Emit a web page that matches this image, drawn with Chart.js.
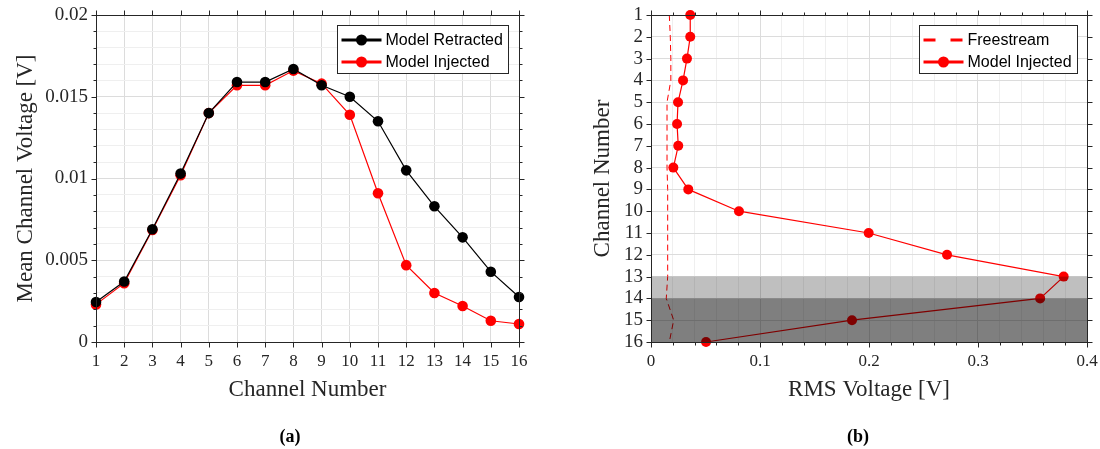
<!DOCTYPE html>
<html>
<head>
<meta charset="utf-8">
<script src="https://cdn.jsdelivr.net/npm/chart.js@4/dist/chart.umd.min.js"></script>
<style>
  body { margin: 0; background: #fff; width: 1100px; height: 449px; position: relative; overflow: hidden; }
  .khung { position: absolute; top: 0; width: 550px; height: 449px; }
  .nhan { position: absolute; top: 436px; transform: translate(-50%, -50%); font: bold 18px "Liberation Serif"; color: #000; }
</style>
</head>
<body>
<div class="khung" style="left:0"><canvas id="bieudoA" width="550" height="449"></canvas></div>
<div class="khung" style="left:550px"><canvas id="bieudoB" width="550" height="449"></canvas></div>
<div class="nhan" style="left:290px">(a)</div>
<div class="nhan" style="left:858px">(b)</div>
<script>
// Dữ liệu
const kenh = [1, 2, 3, 4, 5, 6, 7, 8, 9, 10, 11, 12, 13, 14, 15, 16];
const dienApRutVao = [0.00245, 0.0037, 0.0069, 0.0103, 0.0140, 0.0159, 0.0159, 0.0167, 0.0157, 0.0150, 0.0135, 0.0105, 0.0083, 0.0064, 0.0043, 0.00275];
const dienApPhun = [0.0023, 0.0036, 0.00685, 0.0102, 0.0140, 0.0157, 0.0157, 0.0166, 0.0158, 0.0139, 0.0091, 0.0047, 0.0030, 0.0022, 0.0013, 0.0011];
const rmsDongTuDo = [0.0168, 0.0177, 0.0182, 0.0182, 0.0147, 0.0147, 0.0147, 0.0147, 0.0153, 0.0153, 0.0153, 0.0153, 0.0153, 0.0140, 0.0208, 0.0168];
const rmsPhun = [0.036, 0.036, 0.033, 0.0294, 0.0248, 0.0239, 0.025, 0.0205, 0.0342, 0.0807, 0.1997, 0.2716, 0.3786, 0.357, 0.1844, 0.0505];

// Nhãn trục
const mocY_A = ["0", "0.005", "0.01", "0.015", "0.02"];
const mocX_B = ["0", "0.1", "0.2", "0.3", "0.4"];

// Vùng tô xám (theo số kênh)
const vungNhat = [13, 14];
const vungDam = [14, 16];

const mauChu = "#262626";
const mauLuoiChinh = "#dcdcdc";
const mauLuoiPhu = "#efefef";

// tạo danh sách vạch: bước nhỏ, nhãn ở các mốc chính
function taoVach(min, max, buoc) {
  const ds = [];
  const n = Math.round((max - min) / buoc);
  for (let i = 0; i <= n; i++) ds.push({ value: +(min + i * buoc).toFixed(6) });
  return ds;
}
function nhanTheoMoc(moc) {
  return function (v) {
    const m = moc.find(s => Math.abs(parseFloat(s) - v) < 1e-9);
    return m === undefined ? "" : m;
  };
}
// cố định kích thước trục, bỏ phần đệm do nhãn tràn
function coDinhTrucDoc(rong) {
  return s => { s.width = rong; s.paddingTop = 0; s.paddingBottom = 0; };
}
function coDinhTrucNgang(cao) {
  return s => { s.height = cao; s.paddingLeft = 0; s.paddingRight = 0; };
}

// khung hộp + vạch chia hướng ra ngoài ở cả bốn cạnh, và vùng xám
const khungPlugin = {
  id: "khung",
  afterDatasetsDraw(chart, args, opts) {
    const ctx = chart.ctx, ca = chart.chartArea;
    const xs = chart.scales.x, ys = chart.scales.y;
    ctx.save();
    (opts.vung || []).forEach(v => {
      const a = ys.getPixelForValue(v.tu), b = ys.getPixelForValue(v.den);
      ctx.fillStyle = v.mau;
      ctx.fillRect(ca.left, Math.min(a, b), ca.right - ca.left, Math.abs(b - a));
    });
    const L = Math.round(ca.left) + 0.5, R = Math.round(ca.right) + 0.5;
    const T = Math.round(ca.top) + 0.5, B = Math.round(ca.bottom) + 0.5;
    ctx.strokeStyle = mauChu;
    ctx.lineWidth = 1;
    ctx.beginPath();
    xs.ticks.forEach(t => {
      const p = Math.round(xs.getPixelForValue(t.value)) + 0.5;
      const d = t.label !== "" ? 5 : 3;
      ctx.moveTo(p, B); ctx.lineTo(p, B + d);
      ctx.moveTo(p, T); ctx.lineTo(p, T - d);
    });
    ys.ticks.forEach(t => {
      const p = Math.round(ys.getPixelForValue(t.value)) + 0.5;
      const d = t.label !== "" ? 5 : 3;
      ctx.moveTo(L, p); ctx.lineTo(L - d, p);
      ctx.moveTo(R, p); ctx.lineTo(R + d, p);
    });
    ctx.stroke();
    ctx.strokeRect(L, T, R - L, B - T);
    ctx.restore();
  }
};

// chú giải kiểu MATLAB: đường + điểm trong hộp
const chuGiaiPlugin = {
  id: "chuGiai",
  afterDraw(chart, args, opts) {
    const ctx = chart.ctx, ca = chart.chartArea;
    const ds = chart.data.datasets;
    ctx.save();
    ctx.font = '16px "Liberation Sans"';
    const textW = Math.max(...ds.map(d => ctx.measureText(d.label).width));
    const w = Math.round(4 + 40 + 4 + textW + 6);
    const h = 48;
    const x0 = Math.round(ca.right - opts.phai - w) + 0.5;
    const y0 = Math.round(ca.top + opts.tren) + 0.5;
    ctx.fillStyle = "#fff";
    ctx.fillRect(x0, y0, w, h);
    ctx.strokeStyle = mauChu;
    ctx.lineWidth = 1;
    ctx.strokeRect(x0, y0, w, h);
    ds.forEach((d, i) => {
      const y = y0 + 14.5 + i * 22;
      ctx.strokeStyle = d.borderColor;
      ctx.lineWidth = 3;
      ctx.setLineDash(d.borderDash ? [12, 15] : []);
      ctx.beginPath(); ctx.moveTo(x0 + 4, y); ctx.lineTo(x0 + 44, y); ctx.stroke();
      ctx.setLineDash([]);
      if (d.pointRadius > 0) {
        ctx.fillStyle = d.pointBackgroundColor;
        ctx.beginPath(); ctx.arc(x0 + 24, y, 5.5, 0, 2 * Math.PI); ctx.fill();
      }
      ctx.fillStyle = "#000";
      ctx.textBaseline = "middle";
      ctx.textAlign = "left";
      ctx.fillText(d.label, x0 + 48, y + 1);
    });
    ctx.restore();
  }
};

const fontVach = { family: "Liberation Serif", size: 19 };
const fontVachX = { family: "Liberation Serif", size: 17 };
const fontTieuDe = { family: "Liberation Serif", size: 23 };

function mauLuoi(c) {
  return c.tick && c.tick.label !== "" ? mauLuoiChinh : mauLuoiPhu;
}

// (a) Điện áp trung bình
new Chart(document.getElementById("bieudoA"), {
  type: "line",
  data: {
    datasets: [
      {
        label: "Model Retracted",
        data: kenh.map((k, i) => ({ x: k, y: dienApRutVao[i] })),
        borderColor: "#000000", backgroundColor: "#000000",
        pointBackgroundColor: "#000000", pointBorderWidth: 0,
        borderWidth: 1.2, pointRadius: 5.3, tension: 0, clip: false
      },
      {
        label: "Model Injected",
        data: kenh.map((k, i) => ({ x: k, y: dienApPhun[i] })),
        borderColor: "#ff0000", backgroundColor: "#ff0000",
        pointBackgroundColor: "#ff0000", pointBorderWidth: 0,
        borderWidth: 1.2, pointRadius: 5.3, tension: 0, clip: false
      }
    ]
  },
  options: {
    responsive: false,
    animation: false,
    layout: { padding: { top: 15, right: 31, bottom: 42, left: 0 } },
    scales: {
      x: {
        type: "linear", min: 1, max: 16,
        afterBuildTicks: s => { s.ticks = taoVach(1, 16, 1); },
        afterFit: coDinhTrucNgang(65),
        ticks: { font: fontVachX, color: mauChu, padding: 9, autoSkip: false, maxRotation: 0, callback: v => String(v) },
        grid: { color: mauLuoiChinh, drawTicks: false },
        border: { display: false },
        title: { display: true, text: "Channel Number", font: fontTieuDe, color: mauChu, padding: { top: 0, bottom: 3 } }
      },
      y: {
        type: "linear", min: 0, max: 0.02,
        afterBuildTicks: s => { s.ticks = taoVach(0, 0.02, 0.001); },
        afterFit: coDinhTrucDoc(96),
        ticks: { font: fontVach, color: mauChu, padding: 8, autoSkip: false, callback: nhanTheoMoc(mocY_A) },
        grid: { color: mauLuoi, drawTicks: false },
        border: { display: false },
        title: { display: true, text: "Mean Channel Voltage [V]", font: fontTieuDe, color: mauChu, padding: { top: 12, bottom: 0 } }
      }
    },
    plugins: {
      legend: { display: false },
      tooltip: { enabled: false },
      khung: {},
      chuGiai: { phai: 11, tren: 10 }
    }
  },
  plugins: [khungPlugin, chuGiaiPlugin]
});

// (b) Điện áp RMS
new Chart(document.getElementById("bieudoB"), {
  type: "line",
  data: {
    datasets: [
      {
        label: "Freestream",
        data: kenh.map((k, i) => ({ x: rmsDongTuDo[i], y: k })),
        borderColor: "#ff0000", borderDash: [6, 4],
        borderWidth: 1, pointRadius: 0, tension: 0, clip: false
      },
      {
        label: "Model Injected",
        data: kenh.map((k, i) => ({ x: rmsPhun[i], y: k })),
        borderColor: "#ff0000", backgroundColor: "#ff0000",
        pointBackgroundColor: "#ff0000", pointBorderWidth: 0,
        borderWidth: 1.2, pointRadius: 5, tension: 0, clip: false
      }
    ]
  },
  options: {
    responsive: false,
    animation: false,
    indexAxis: "y",
    layout: { padding: { top: 15, right: 13, bottom: 42, left: 0 } },
    scales: {
      x: {
        type: "linear", min: 0, max: 0.4,
        afterBuildTicks: s => { s.ticks = taoVach(0, 0.4, 0.02); },
        afterFit: coDinhTrucNgang(65),
        ticks: { font: fontVachX, color: mauChu, padding: 9, autoSkip: false, maxRotation: 0, callback: nhanTheoMoc(mocX_B) },
        grid: { color: mauLuoi, drawTicks: false },
        border: { display: false },
        title: { display: true, text: "RMS Voltage [V]", font: fontTieuDe, color: mauChu, padding: { top: 0, bottom: 3 } }
      },
      y: {
        type: "linear", min: 1, max: 16, reverse: true,
        afterBuildTicks: s => { s.ticks = taoVach(1, 16, 1); },
        afterFit: coDinhTrucDoc(101),
        ticks: { font: fontVach, color: mauChu, padding: 8, autoSkip: false, callback: v => String(v) },
        grid: { color: mauLuoiChinh, drawTicks: false },
        border: { display: false },
        title: { display: true, text: "Channel Number", font: fontTieuDe, color: mauChu, padding: { top: 39, bottom: 0 } }
      }
    },
    plugins: {
      legend: { display: false },
      tooltip: { enabled: false },
      khung: {
        vung: [
          { tu: vungNhat[0], den: vungNhat[1], mau: "rgba(0,0,0,0.25)" },
          { tu: vungDam[0], den: vungDam[1], mau: "rgba(0,0,0,0.5)" }
        ]
      },
      chuGiai: { phai: 10, tren: 10 }
    }
  },
  plugins: [khungPlugin, chuGiaiPlugin]
});
</script>
</body>
</html>
